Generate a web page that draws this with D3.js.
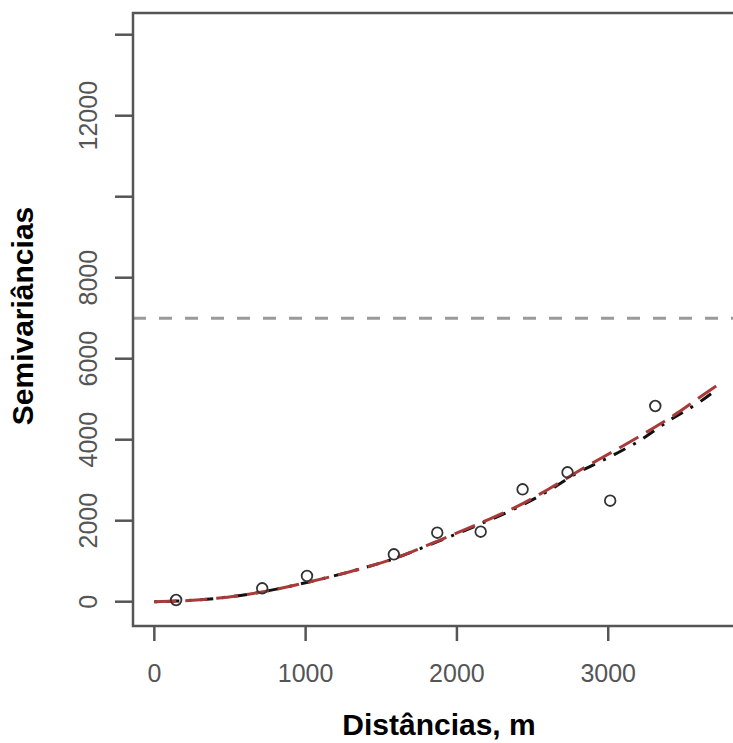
<!DOCTYPE html>
<html>
<head>
<meta charset="utf-8">
<script src="https://cdn.jsdelivr.net/npm/d3@7"></script>
<style>
  html, body { margin: 0; padding: 0; background: #fff; }
  svg { display: block; font-family: "Liberation Sans", Arial, sans-serif; }
</style>
</head>
<body>
<svg id="chart" width="733" height="743"></svg>
<script>
// Empirical semivariogram points
const distances = [144, 713, 1009, 1583, 1870, 2157, 2434, 2731, 3013, 3311];
const semivariances = [42, 331, 635, 1170, 1704, 1728, 2775, 3195, 2494, 4832];

// Fitted model (red, long dashes)
const redH = [0, 148, 412, 720, 1029, 1293, 1558, 1888, 2174, 2395, 2615, 2835, 3056, 3232, 3453, 3629, 3739];
const redG = [0, 15, 84, 247, 494, 741, 1030, 1523, 1975, 2346, 2800, 3294, 3760, 4140, 4650, 5110, 5390];

// Fitted model (black, dot-dash)
const blackH = [0, 148, 412, 720, 1029, 1293, 1558, 1888, 2174, 2395, 2615, 2791, 3012, 3200, 3408, 3607, 3706];
const blackG = [0, 15, 84, 247, 494, 741, 1030, 1510, 1950, 2320, 2760, 3170, 3580, 3960, 4486, 4938, 5210];

// Sill reference line
const sill = 7000;

const xTicks = [0, 1000, 2000, 3000];
const yTicks = [0, 2000, 4000, 6000, 8000, 10000, 12000, 14000];
const yLabelled = [0, 2000, 4000, 6000, 8000, 12000];

const svg = d3.select("#chart");
const plot = { left: 133, top: 13, right: 745, bottom: 626 };

const x = d3.scaleLinear().domain([-141, 3904]).range([plot.left, plot.right]);
const y = d3.scaleLinear().domain([-600, 14536]).range([plot.bottom, plot.top]);

const axisColor = "#555";

// ticks
svg.append("g")
  .selectAll("line")
  .data(xTicks)
  .join("line")
  .attr("x1", d => x(d)).attr("x2", d => x(d))
  .attr("y1", plot.bottom).attr("y2", plot.bottom + 15)
  .attr("stroke", axisColor).attr("stroke-width", 2.5);

svg.append("g")
  .selectAll("text")
  .data(xTicks)
  .join("text")
  .attr("x", d => x(d))
  .attr("y", 682)
  .attr("text-anchor", "middle")
  .attr("font-size", 25)
  .attr("fill", axisColor)
  .text(d => d);

svg.append("g")
  .selectAll("line")
  .data(yTicks)
  .join("line")
  .attr("x1", plot.left - 18).attr("x2", plot.left)
  .attr("y1", d => y(d)).attr("y2", d => y(d))
  .attr("stroke", axisColor).attr("stroke-width", 2.5);

svg.append("g")
  .selectAll("text")
  .data(yLabelled)
  .join("text")
  .attr("transform", d => `translate(97,${y(d)}) rotate(-90)`)
  .attr("text-anchor", "middle")
  .attr("font-size", 25)
  .attr("fill", axisColor)
  .text(d => d);

// sill line
svg.append("line")
  .attr("x1", plot.left).attr("x2", plot.right)
  .attr("y1", y(sill)).attr("y2", y(sill))
  .attr("stroke", "#9a9a9a")
  .attr("stroke-width", 3)
  .attr("stroke-dasharray", "13,13");

const line = d3.line()
  .x(d => x(d[0]))
  .y(d => y(d[1]))
  .curve(d3.curveMonotoneX);

svg.append("path")
  .datum(d3.zip(blackH, blackG))
  .attr("d", line)
  .attr("fill", "none")
  .attr("stroke", "#111")
  .attr("stroke-width", 3)
  .attr("stroke-dasharray", "3,9,13,9");

svg.append("path")
  .datum(d3.zip(redH, redG))
  .attr("d", line)
  .attr("fill", "none")
  .attr("stroke", "#a83a3a")
  .attr("stroke-width", 3)
  .attr("stroke-dasharray", "22,9");

// points
svg.append("g")
  .selectAll("circle")
  .data(d3.zip(distances, semivariances))
  .join("circle")
  .attr("cx", d => x(d[0]))
  .attr("cy", d => y(d[1]))
  .attr("r", 5.3)
  .attr("fill", "none")
  .attr("stroke", "#333")
  .attr("stroke-width", 1.8);

// frame
svg.append("rect")
  .attr("x", plot.left).attr("y", plot.top)
  .attr("width", plot.right - plot.left)
  .attr("height", plot.bottom - plot.top)
  .attr("fill", "none")
  .attr("stroke", axisColor)
  .attr("stroke-width", 2.5);

// axis titles
svg.append("text")
  .attr("x", 439)
  .attr("y", 735)
  .attr("text-anchor", "middle")
  .attr("font-size", 30)
  .attr("font-weight", "bold")
  .attr("fill", "#000")
  .text("Distâncias, m");

svg.append("text")
  .attr("transform", "translate(33,316) rotate(-90)")
  .attr("text-anchor", "middle")
  .attr("font-size", 30)
  .attr("font-weight", "bold")
  .attr("fill", "#000")
  .text("Semivariâncias");
</script>
</body>
</html>
